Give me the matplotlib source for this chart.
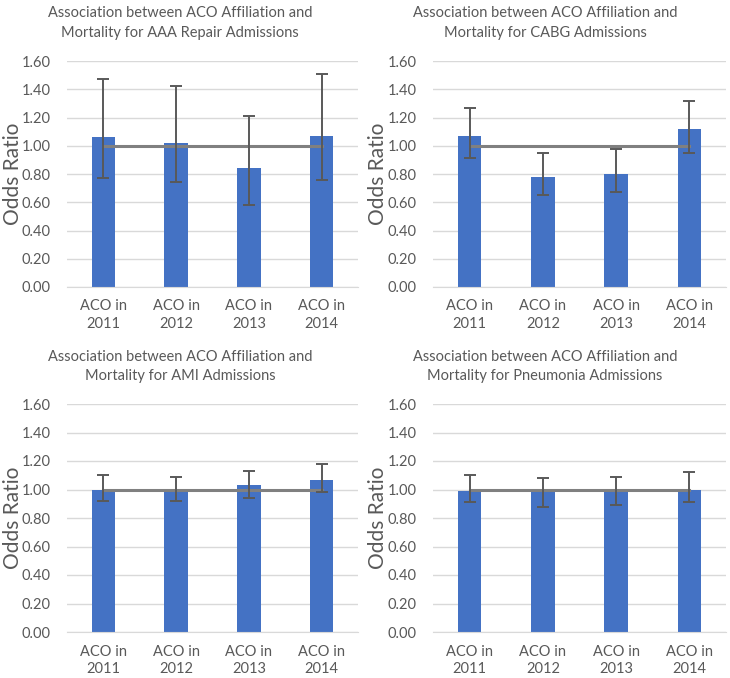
import matplotlib.pyplot as plt
import numpy as np

plt.rcParams['font.family'] = ['Lato', 'DejaVu Sans']

# data
categories = ["ACO in\n2011", "ACO in\n2012", "ACO in\n2013", "ACO in\n2014"]
titles = ["Association between ACO Affiliation and\nMortality for AAA Repair Admissions",
          "Association between ACO Affiliation and\nMortality for CABG Admissions",
          "Association between ACO Affiliation and\nMortality for AMI Admissions",
          "Association between ACO Affiliation and\nMortality for Pneumonia Admissions"]

aaa_or = [1.06, 1.02, 0.84, 1.07]
aaa_lo = [0.77, 0.74, 0.58, 0.76]
aaa_hi = [1.47, 1.42, 1.21, 1.51]

cabg_or = [1.07, 0.78, 0.80, 1.12]
cabg_lo = [0.91, 0.65, 0.67, 0.95]
cabg_hi = [1.27, 0.95, 0.98, 1.32]

ami_or = [1.00, 1.00, 1.03, 1.07]
ami_lo = [0.92, 0.92, 0.94, 0.98]
ami_hi = [1.10, 1.09, 1.13, 1.18]

pneu_or = [0.99, 0.98, 0.99, 1.00]
pneu_lo = [0.91, 0.88, 0.89, 0.91]
pneu_hi = [1.10, 1.08, 1.09, 1.12]

reference = [1.0, 1.0, 1.0, 1.0]
yticks = [0, 0.2, 0.4, 0.6, 0.8, 1.0, 1.2, 1.4, 1.6]

panels = [(aaa_or, aaa_lo, aaa_hi), (cabg_or, cabg_lo, cabg_hi),
          (ami_or, ami_lo, ami_hi), (pneu_or, pneu_lo, pneu_hi)]

W, H = 730, 678
fig = plt.figure(figsize=(W / 100, H / 100), dpi=100)

# axes boxes in pixels: left, top, right, bottom
boxes = [(67, 61, 358, 287), (433, 61, 726, 287),
         (67, 404, 358, 632), (433, 404, 726, 632)]
title_y = [6, 6, 350, 350]
title_x = [180, 545, 180, 545]
ylabel_x = [13, 378, 13, 378]

grey = '#595959'
x = np.arange(len(categories))

for i, (vals, lo, hi) in enumerate(panels):
    l, t, r, b = boxes[i]
    ax = fig.add_axes([l / W, 1 - b / H, (r - l) / W, (b - t) / H])
    vals = np.array(vals)
    yerr = [vals - np.array(lo), np.array(hi) - vals]
    ax.bar(x, vals, width=0.32, color='#4472C4', zorder=2)
    ax.plot(x, reference, color='#808080', lw=2.2, zorder=3)
    ax.errorbar(x, vals, yerr=yerr, fmt='none', ecolor=grey, elinewidth=1.4,
                capsize=4, capthick=1.4, zorder=4)
    ax.set_xlim(-0.5, 3.5)
    ax.set_ylim(0, 1.6)
    ax.set_yticks(yticks)
    ax.set_yticklabels([f"{v:.2f}" for v in yticks])
    ax.set_xticks(x)
    ax.set_xticklabels(categories, linespacing=1.3)
    ax.grid(axis='y', color='#D9D9D9', lw=1, zorder=0)
    for s in ['top', 'right', 'left']:
        ax.spines[s].set_visible(False)
    ax.spines['bottom'].set_color('#D9D9D9')
    ax.tick_params(length=0, labelsize=10.5, colors=grey)
    ax.tick_params(axis='x', pad=9)
    ax.tick_params(axis='y', pad=12)
    fig.text(title_x[i] / W, 1 - title_y[i] / H, titles[i], ha='center', va='top',
             fontsize=10.5, color=grey, linespacing=1.5)
    fig.text(ylabel_x[i] / W, 1 - ((t + b) / 2) / H, "Odds Ratio", rotation=90,
             ha='center', va='center', fontsize=15, color=grey)

fig.savefig('out.png', dpi=100)
